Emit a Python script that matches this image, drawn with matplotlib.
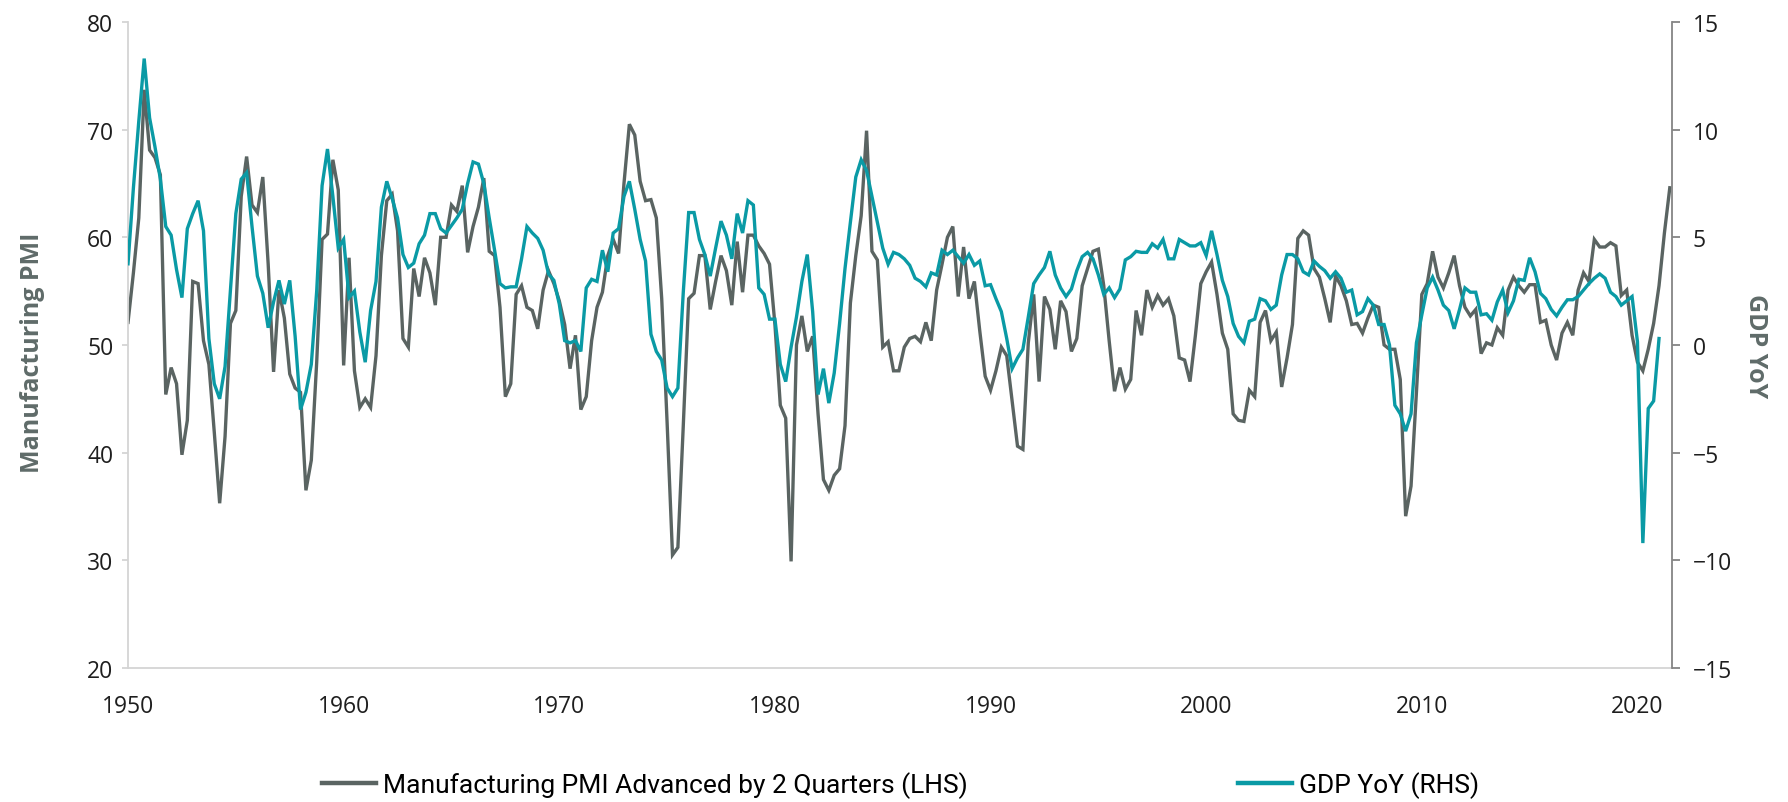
import numpy as np
import pandas as pd
import matplotlib
matplotlib.use("Agg")
import matplotlib.pyplot as plt

# Manufacturing PMI advanced by 2 quarters, quarterly from 1950Q1 (LHS)
pmi = [
    52.1, 56.7, 61.8, 73.7, 68.1, 67.4, 65.8, 45.4, 47.9, 46.4,
    39.8, 43.0, 55.9, 55.7, 50.4, 48.2, 41.9, 35.3, 41.5, 52.0,
    53.2, 63.8, 67.5, 63.0, 62.3, 65.6, 57.5, 47.5, 55.1, 52.5,
    47.3, 46.0, 45.6, 36.5, 39.3, 48.4, 59.8, 60.3, 67.2, 64.4,
    48.1, 58.1, 47.6, 44.2, 45.0, 44.2, 49.0, 58.3, 63.4, 64.0,
    60.6, 50.6, 49.8, 57.1, 54.5, 58.1, 56.7, 53.7, 60.0, 60.0,
    63.0, 62.4, 64.8, 58.6, 61.0, 62.8, 65.5, 58.7, 58.3, 53.5,
    45.2, 46.4, 54.7, 55.5, 53.5, 53.2, 51.5, 55.1, 56.9, 55.7,
    54.1, 51.9, 47.8, 50.9, 44.0, 45.2, 50.4, 53.5, 54.9, 58.3,
    59.8, 58.5, 65.0, 70.5, 69.5, 65.2, 63.4, 63.5, 61.8, 54.3,
    42.8, 30.5, 31.2, 42.5, 54.3, 54.8, 58.3, 58.3, 53.3, 55.9,
    58.3, 56.9, 53.7, 59.6, 54.9, 60.2, 60.2, 59.2, 58.5, 57.5,
    51.9, 44.4, 43.2, 29.9, 50.0, 52.7, 49.4, 50.8, 43.6, 37.5,
    36.5, 37.9, 38.5, 42.5, 53.9, 58.3, 62.0, 69.9, 58.7, 57.9,
    49.8, 50.3, 47.6, 47.6, 49.8, 50.6, 50.8, 50.3, 52.1, 50.4,
    55.1, 57.5, 60.0, 61.0, 54.5, 59.1, 54.3, 55.9, 51.3, 47.1,
    45.8, 47.6, 49.8, 49.0, 44.8, 40.6, 40.3, 50.2, 54.7, 46.6,
    54.5, 53.3, 49.6, 54.1, 53.1, 49.4, 50.6, 55.5, 57.1, 58.7,
    58.9, 55.5, 50.4, 45.7, 47.9, 45.9, 46.8, 53.2, 50.9, 55.1,
    53.5, 54.6, 53.7, 54.3, 52.7, 48.8, 48.6, 46.6, 50.9, 55.7,
    56.8, 57.7, 54.7, 51.1, 49.6, 43.6, 43.0, 42.9, 45.8, 45.2,
    52.1, 53.2, 50.4, 51.2, 46.1, 48.8, 51.9, 59.9, 60.6, 60.2,
    57.1, 56.3, 54.3, 52.1, 56.4, 55.5, 54.1, 51.9, 52.0, 51.1,
    52.5, 53.7, 53.5, 50.0, 49.6, 49.6, 46.8, 34.1, 36.9, 45.6,
    54.7, 55.7, 58.7, 56.3, 55.3, 56.7, 58.3, 55.5, 53.5, 52.7,
    53.3, 49.2, 50.2, 50.0, 51.6, 50.9, 55.1, 56.3, 55.5, 54.9,
    55.6, 55.6, 52.1, 52.3, 50.0, 48.6, 51.1, 52.1, 50.9, 55.1,
    56.7, 55.9, 59.8, 59.1, 59.1, 59.5, 59.2, 54.6, 55.1, 50.9,
    48.4, 47.6, 49.6, 52.0, 55.5, 60.4, 64.6,
]

# GDP YoY %, quarterly from 1950Q1 (RHS)
gdp = [
    3.77, 7.3, 10.4, 13.3, 10.55, 9.2, 7.7, 5.5, 5.1, 3.5,
    2.2, 5.4, 6.1, 6.7, 5.3, 0.3, -1.8, -2.5, -1.0, 2.55,
    6.1, 7.7, 8.0, 5.5, 3.2, 2.4, 0.8, 2.0, 3.0, 1.9,
    3.0, 0.4, -3.0, -2.2, -0.9, 2.5, 7.4, 9.1, 6.9, 4.5,
    4.9, 2.2, 2.5, 0.6, -0.8, 1.6, 2.95, 6.4, 7.6, 6.8,
    5.9, 4.2, 3.6, 3.8, 4.7, 5.1, 6.1, 6.1, 5.4, 5.2,
    5.55, 5.9, 6.3, 7.5, 8.5, 8.4, 7.5, 5.9, 4.4, 2.85,
    2.65, 2.7, 2.7, 4.0, 5.5, 5.2, 4.95, 4.4, 3.3, 3.0,
    1.9, 0.2, 0.1, 0.2, -0.3, 2.65, 3.05, 2.95, 4.4, 3.4,
    5.2, 5.4, 6.9, 7.6, 6.3, 4.9, 3.9, 0.5, -0.3, -0.7,
    -2.0, -2.4, -2.0, 2.45, 6.15, 6.15, 4.9, 4.2, 3.2, 4.5,
    5.75, 5.1, 4.0, 6.1, 5.2, 6.7, 6.5, 2.65, 2.35, 1.2,
    1.2, -0.9, -1.7, -0.1, 1.3, 2.95, 4.2, 1.55, -2.3, -1.1,
    -2.7, -1.3, 1.0, 3.55, 5.7, 7.8, 8.6, 8.1, 6.9, 5.7,
    4.5, 3.75, 4.3, 4.2, 4.0, 3.7, 3.1, 2.95, 2.7, 3.35,
    3.25, 4.4, 4.2, 4.4, 4.1, 3.8, 4.2, 3.7, 3.9, 2.75,
    2.8, 2.15, 1.55, 0.3, -1.1, -0.6, -0.2, 1.3, 2.85, 3.25,
    3.6, 4.35, 3.25, 2.65, 2.25, 2.6, 3.45, 4.1, 4.3, 4.0,
    3.25, 2.35, 2.65, 2.2, 2.6, 3.95, 4.1, 4.35, 4.3, 4.3,
    4.7, 4.5, 4.9, 4.0, 4.0, 4.9, 4.75, 4.6, 4.6, 4.75,
    4.15, 5.3, 4.2, 3.0, 2.25, 1.0, 0.4, 0.1, 1.1, 1.2,
    2.15, 2.05, 1.65, 1.85, 3.25, 4.2, 4.2, 4.0, 3.4, 3.25,
    3.9, 3.65, 3.45, 3.1, 3.4, 3.1, 2.45, 2.55, 1.4, 1.55,
    2.15, 1.85, 0.95, 0.95, 0.0, -2.8, -3.2, -4.0, -3.2, 0.1,
    1.4, 2.65, 3.15, 2.55, 1.85, 1.6, 0.75, 1.65, 2.65, 2.45,
    2.45, 1.4, 1.45, 1.15, 2.0, 2.55, 1.5, 2.05, 3.05, 3.0,
    4.05, 3.4, 2.4, 2.15, 1.65, 1.35, 1.75, 2.1, 2.1, 2.25,
    2.55, 2.85, 3.1, 3.3, 3.1, 2.45, 2.25, 1.85, 2.05, 2.25,
    0.15, -9.2, -2.95, -2.6, 0.3,
]

x_ticks = [1950, 1960, 1970, 1980, 1990, 2000, 2010, 2020]
pmi_ticks = [20, 30, 40, 50, 60, 70, 80]
gdp_ticks = [-15, -10, -5, 0, 5, 10, 15]


def quarter_years(n):
    p = pd.period_range("1950Q1", periods=n, freq="Q")
    return np.asarray(p.year + (p.quarter - 1) / 4.0, dtype=float)


GRAY = "#5a6462"
TEAL = "#0a9aa5"
LABEL = "#5f6b69"

plt.rcParams["font.family"] = ["Open Sans", "DejaVu Sans"]
plt.rcParams["xtick.labelsize"] = 16.5
plt.rcParams["ytick.labelsize"] = 16.5

fig = plt.figure(figsize=(17.88, 8.03), dpi=100)
ax = fig.add_axes([0.0716, 0.1669, 0.8635, 0.8045])
ax2 = ax.twinx()

ax.plot(quarter_years(len(pmi)), pmi, color=GRAY, lw=2.4, solid_joinstyle="miter")
ax2.plot(quarter_years(len(gdp)), gdp, color=TEAL, lw=2.4, solid_joinstyle="miter")

ax.set_xlim(1950, 2021.6)
ax.set_ylim(20, 80)
ax2.set_ylim(-15, 15)
ax.set_xticks(x_ticks)
ax.set_yticks(pmi_ticks)
ax2.set_yticks(gdp_ticks)

for a in (ax, ax2):
    a.spines["top"].set_visible(False)

ax.spines["right"].set_visible(False)
ax.spines["left"].set_color("#d4d4d4")
ax.spines["bottom"].set_color("#d4d4d4")
ax.spines["left"].set_linewidth(1.3)
ax.spines["bottom"].set_linewidth(1.3)
ax2.spines["left"].set_visible(False)
ax2.spines["bottom"].set_visible(False)
ax2.spines["right"].set_color("#858585")
ax2.spines["right"].set_linewidth(1.3)

ax.tick_params(axis="x", length=0, pad=19, labelcolor="#1e1e1e")
ax.tick_params(axis="y", direction="out", length=4.5, width=1.3, color="#d4d4d4",
               labelcolor="#1e1e1e", pad=6)
ax2.tick_params(axis="y", direction="out", length=6, width=1.3, color="#858585",
                labelcolor="#1e1e1e", pad=9)

ax.set_ylabel("Manufacturing PMI", fontsize=18, fontweight="bold", color=LABEL)
ax.yaxis.set_label_coords(-0.054, 0.49)
ax2.set_ylabel("GDP YoY", fontsize=18, fontweight="bold",
               color=LABEL, rotation=270, labelpad=26)

h1, = ax.plot([], [], color=GRAY, lw=3.2)
h2, = ax2.plot([], [], color=TEAL, lw=3.2)
fig.legend([h1, h2],
           ["Manufacturing PMI Advanced by 2 Quarters (LHS)", "GDP YoY (RHS)"],
           loc="center left", bbox_to_anchor=(0.180, 0.022), ncol=2, frameon=False,
           prop={"family": ["Roboto", "DejaVu Sans"], "size": 19},
           handlelength=2.05, handletextpad=0.26,
           columnspacing=10.25, borderpad=0, borderaxespad=0)

fig.savefig("out.png", dpi=100)
